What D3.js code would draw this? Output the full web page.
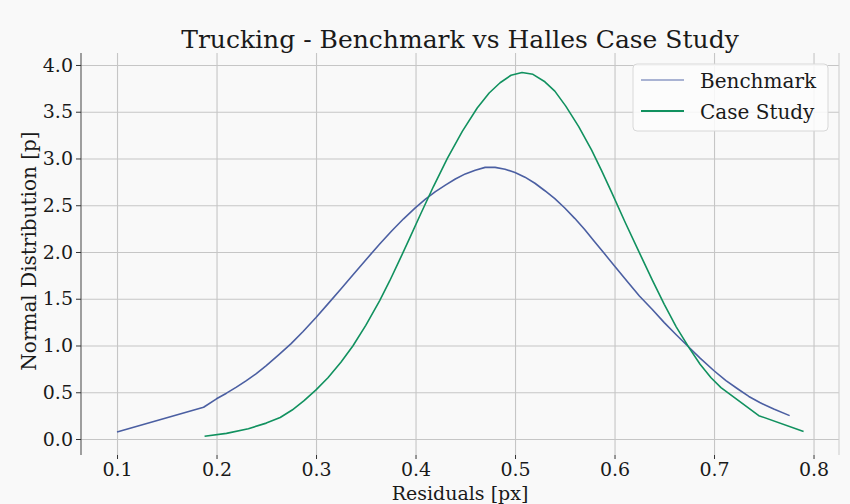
<!DOCTYPE html>
<html>
<head>
<meta charset="utf-8">
<script src="https://cdn.jsdelivr.net/npm/d3@7"></script>
<style>
body { margin: 0; background: #f9f9f9; }
text { font-family: "DejaVu Serif", serif; fill: #1a1a1a; }
</style>
</head>
<body>
<div id="chart"></div>
<script>
// values
var benchX = [0.100, 0.187, 0.200, 0.210, 0.220, 0.230, 0.240, 0.250, 0.263, 0.275, 0.287, 0.300, 0.312,
              0.325, 0.337, 0.350, 0.364, 0.376, 0.388, 0.400, 0.410, 0.420, 0.430, 0.440, 0.450, 0.460,
              0.470, 0.480, 0.490, 0.500, 0.510, 0.520, 0.530, 0.540, 0.550, 0.560, 0.570, 0.580, 0.590,
              0.600, 0.612, 0.625, 0.638, 0.650, 0.662, 0.673, 0.686, 0.700, 0.712, 0.724, 0.735, 0.746,
              0.760, 0.776];
var benchY = [0.075, 0.34, 0.43, 0.49, 0.555, 0.625, 0.70, 0.785, 0.905, 1.02, 1.15, 1.30, 1.445,
              1.605, 1.755, 1.915, 2.085, 2.225, 2.355, 2.475, 2.565, 2.645, 2.715, 2.78, 2.835, 2.875,
              2.905, 2.905, 2.885, 2.85, 2.80, 2.735, 2.655, 2.57, 2.47, 2.36, 2.24, 2.11, 1.98,
              1.85, 1.695, 1.53, 1.385, 1.245, 1.115, 1.00, 0.865, 0.73, 0.625, 0.535, 0.455, 0.39,
              0.32, 0.25];
var caseX = [0.188, 0.210, 0.232, 0.250, 0.264, 0.276, 0.288, 0.300, 0.312, 0.325, 0.337, 0.350, 0.364,
             0.374, 0.384, 0.394, 0.404, 0.418, 0.432, 0.447, 0.462, 0.474, 0.485, 0.496, 0.507, 0.518,
             0.530, 0.540, 0.551, 0.564, 0.577, 0.587, 0.597, 0.611, 0.626, 0.638, 0.650, 0.662, 0.675,
             0.686, 0.697, 0.707, 0.745, 0.790];
var caseY = [0.03, 0.06, 0.11, 0.17, 0.23, 0.31, 0.41, 0.525, 0.655, 0.82, 0.995, 1.215, 1.48,
             1.69, 1.915, 2.145, 2.38, 2.70, 3.00, 3.29, 3.54, 3.70, 3.81, 3.89, 3.92, 3.90,
             3.82, 3.72, 3.56, 3.34, 3.09, 2.87, 2.64, 2.31, 1.97, 1.70, 1.44, 1.20, 0.975,
             0.80, 0.655, 0.55, 0.25, 0.08];
var seriesNames = ["Benchmark", "Case Study"];
var xTicks = [0.1, 0.2, 0.3, 0.4, 0.5, 0.6, 0.7, 0.8];
var yTicks = [0.0, 0.5, 1.0, 1.5, 2.0, 2.5, 3.0, 3.5, 4.0];

function buildChart(section_id) {
    var margin = {top: 53, right: 11, bottom: 49, left: 81};
    var width = 850 - margin.left - margin.right,
        height = 504 - margin.top - margin.bottom;

    var colors = {"Benchmark": "#4b5fa2", "Case Study": "#11915f"};
    var legendColors = {"Benchmark": "#a9b3d3", "Case Study": "#11915f"};

    var xScale = d3.scaleLinear().domain([0.0638, 0.8256]).range([0, width]);
    var yScale = d3.scaleLinear().domain([-0.171, 4.128]).range([height, 0]);

    var svg = d3.select(section_id).append("svg")
        .attr("width", 850)
        .attr("height", 504);

    svg.append("rect")
        .attr("width", 850).attr("height", 504)
        .attr("fill", "#f9f9f9");

    var g = svg.append("g")
        .attr("transform", "translate(" + margin.left + "," + margin.top + ")");

    // grid
    g.append("g")
        .attr("class", "grid grid--x")
        .attr("transform", "translate(0," + height + ")")
        .call(d3.axisBottom(xScale).tickValues(xTicks).tickSize(-height).tickFormat(""))
        .call(function(s) { s.select(".domain").remove(); })
        .selectAll("line").attr("stroke", "#c6c6c6").attr("stroke-width", 1.1);

    g.append("g")
        .attr("class", "grid grid--y")
        .call(d3.axisLeft(yScale).tickValues(yTicks).tickSize(-width).tickFormat(""))
        .call(function(s) { s.select(".domain").remove(); })
        .selectAll("line").attr("stroke", "#c6c6c6").attr("stroke-width", 1.1);

    // spines: dark left, light right
    g.append("line")
        .attr("x1", 0).attr("x2", 0).attr("y1", 0).attr("y2", height)
        .attr("stroke", "#555").attr("stroke-width", 1.1);
    g.append("line")
        .attr("x1", width).attr("x2", width).attr("y1", 0).attr("y2", height)
        .attr("stroke", "#cfcfcf").attr("stroke-width", 1.1);

    // axes
    var xAxis = g.append("g")
        .attr("class", "axis axis--x")
        .attr("transform", "translate(0," + height + ")")
        .call(d3.axisBottom(xScale).tickValues(xTicks).tickFormat(d3.format(".1f")).tickSize(4).tickPadding(4));
    xAxis.select(".domain").remove();
    xAxis.selectAll("line").attr("stroke", "#333");
    xAxis.selectAll("text").style("font-size", "19px").attr("fill", "#1a1a1a")
        .style("font-family", "'DejaVu Serif', serif");

    var yAxis = g.append("g")
        .attr("class", "axis axis--y")
        .call(d3.axisLeft(yScale).tickValues(yTicks).tickFormat(d3.format(".1f")).tickSize(5).tickPadding(3));
    yAxis.select(".domain").remove();
    yAxis.selectAll("line").attr("stroke", "#333");
    yAxis.selectAll("text").style("font-size", "19px").attr("fill", "#1a1a1a")
        .style("font-family", "'DejaVu Serif', serif");

    // lines
    var series = [
        {id: "Benchmark", values: benchX.map(function(x, i) { return {x: x, y: benchY[i]}; })},
        {id: "Case Study", values: caseX.map(function(x, i) { return {x: x, y: caseY[i]}; })}
    ];

    var line = d3.line()
        .x(function(d) { return xScale(d.x); })
        .y(function(d) { return yScale(d.y); });

    g.selectAll(".trend")
        .data(series)
        .enter().append("path")
        .attr("class", "trend")
        .attr("d", function(d) { return line(d.values); })
        .attr("fill", "none")
        .attr("stroke", function(d) { return colors[d.id]; })
        .attr("stroke-width", 1.6)
        .attr("stroke-linejoin", "round");

    // labels
    svg.append("text")
        .attr("x", margin.left + width / 2)
        .attr("y", 48)
        .attr("text-anchor", "middle")
        .style("font-size", "25px")
        .text("Trucking - Benchmark vs Halles Case Study");

    svg.append("text")
        .attr("x", margin.left + width / 2)
        .attr("y", 500)
        .attr("text-anchor", "middle")
        .style("font-size", "19px")
        .text("Residuals [px]");

    svg.append("text")
        .attr("transform", "translate(36," + (margin.top + height / 2 - 3) + ") rotate(-90)")
        .attr("text-anchor", "middle")
        .style("font-size", "20px")
        .text("Normal Distribution [p]");

    // legend
    var legend = svg.append("g").attr("class", "legend")
        .attr("transform", "translate(633,64)");
    legend.append("rect")
        .attr("width", 195).attr("height", 67)
        .attr("rx", 4).attr("ry", 4)
        .attr("fill", "#fdfdfd").attr("fill-opacity", 0.85)
        .attr("stroke", "#d8d8d8").attr("stroke-width", 1);

    var items = legend.selectAll(".legend-item")
        .data(seriesNames)
        .enter().append("g")
        .attr("class", "legend-item")
        .attr("transform", function(d, i) { return "translate(0," + (16 + i * 31) + ")"; });
    items.append("line")
        .attr("x1", 8).attr("x2", 51)
        .attr("stroke", function(d) { return legendColors[d]; })
        .attr("stroke-width", 1.8);
    items.append("text")
        .attr("x", 67)
        .attr("y", 7.5)
        .style("font-size", "20px")
        .text(function(d) { return d; });
}

buildChart("#chart");
</script>
</body>
</html>
